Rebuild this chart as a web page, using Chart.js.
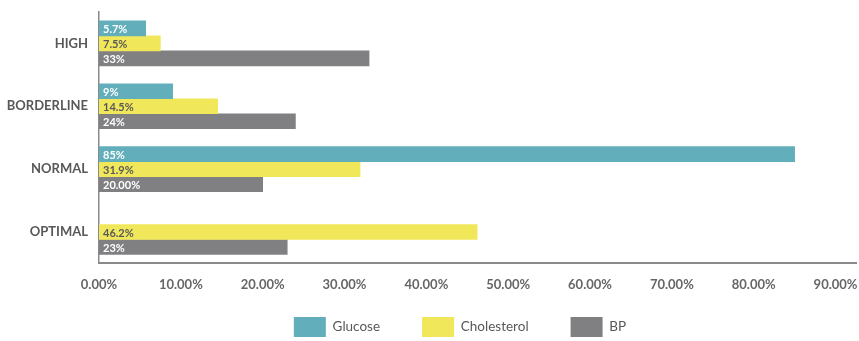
<!DOCTYPE html>
<html lang="en">
  <head>
    <meta charset="UTF-8" />
    <title>Levels</title>
    <style>
      body { margin: 0; background: #fff; }
    </style>
  </head>
  <body>
    <div style="position: relative; width: 859px; height: 341px">
      <canvas id="bars"></canvas>
    </div>

    <script src="https://cdn.jsdelivr.net/npm/chart.js"></script>
    <script>
      const categories = ["HIGH", "BORDERLINE", "NORMAL", "OPTIMAL"];
      const glucose = [5.7, 9, 85, null];
      const cholesterol = [7.5, 14.5, 31.9, 46.2];
      const bp = [33, 24, 20, 23];
      // text printed inside each bar
      const glucoseText = ["5.7%", "9%", "85%", null];
      const cholesterolText = ["7.5%", "14.5%", "31.9%", "46.2%"];
      const bpText = ["33%", "24%", "20.00%", "23%"];
      const xTicks = [0, 10, 20, 30, 40, 50, 60, 70, 80, 90];

      const FONT = "Lato, 'Open Sans', sans-serif";
      const LEGEND_PAD = 42;

      // draws the value text at the start of every bar
      const barText = {
        id: "barText",
        afterDatasetsDraw(chart) {
          const ctx = chart.ctx;
          ctx.save();
          ctx.font = "bold 11px " + FONT;
          ctx.textBaseline = "middle";
          ctx.textAlign = "left";
          chart.data.datasets.forEach((ds, i) => {
            const meta = chart.getDatasetMeta(i);
            meta.data.forEach((bar, j) => {
              const txt = ds.texts[j];
              if (!txt) return;
              ctx.fillStyle = ds.textColor;
              ctx.fillText(txt, bar.base + 4, bar.y + 1);
            });
          });
          ctx.restore();
        },
      };

      // wide horizontal gaps in the legend without the matching vertical gap
      const legendPlace = {
        id: "legendPlace",
        beforeLayout(chart) {
          const lg = chart.legend;
          if (!lg || lg._patched) return;
          const fit = lg.fit;
          lg.fit = function () {
            fit.call(this);
            this.height = 34;
          };
          lg._patched = true;
        },
        afterLayout(chart) {
          chart.legend.top = 317 - LEGEND_PAD;
          chart.legend.left = 64;
        },
      };

      new Chart(document.getElementById("bars"), {
        type: "bar",
        data: {
          labels: categories,
          datasets: [
            {
              label: "Glucose",
              data: glucose,
              texts: glucoseText,
              textColor: "#ffffff",
              backgroundColor: "#62AFBB",
            },
            {
              label: "Cholesterol",
              data: cholesterol,
              texts: cholesterolText,
              textColor: "#58585a",
              backgroundColor: "#F0E85A",
            },
            {
              label: "BP",
              data: bp,
              texts: bpText,
              textColor: "#ffffff",
              backgroundColor: "#808083",
            },
          ],
        },
        plugins: [barText, legendPlace],
        options: {
          indexAxis: "y",
          responsive: true,
          maintainAspectRatio: false,
          animation: false,
          layout: { padding: { left: 0, right: 3, top: 12, bottom: 0 } },
          datasets: { bar: { barThickness: 15 } },
          scales: {
            x: {
              min: 0,
              max: 92.5,
              grid: { display: false, drawTicks: false },
              border: { color: "#8a8a8c", width: 2 },
              afterBuildTicks(scale) {
                scale.ticks = xTicks.map((v) => ({ value: v }));
              },
              afterFit(scale) {
                scale.paddingRight = 0;
              },
              ticks: {
                padding: 14,
                color: "#666668",
                font: { family: FONT, size: 13, weight: "bold" },
                callback: (v) => v.toFixed(2) + "%",
              },
            },
            y: {
              afterFit(scale) {
                scale.width = 99;
                scale.paddingTop = 0;
                scale.paddingBottom = 0;
              },
              grid: { display: false, drawTicks: false },
              border: { color: "#8a8a8c", width: 1.5 },
              ticks: {
                padding: 11,
                color: "#58585a",
                font: { family: FONT, size: 13, weight: "bold" },
              },
            },
          },
          plugins: {
            tooltip: { enabled: false },
            legend: {
              position: "bottom",
              labels: {
                boxWidth: 32,
                boxHeight: 20,
                padding: LEGEND_PAD,
                color: "#58585a",
                font: { family: FONT, size: 13.5 },
              },
            },
          },
        },
      });
    </script>
  </body>
</html>
